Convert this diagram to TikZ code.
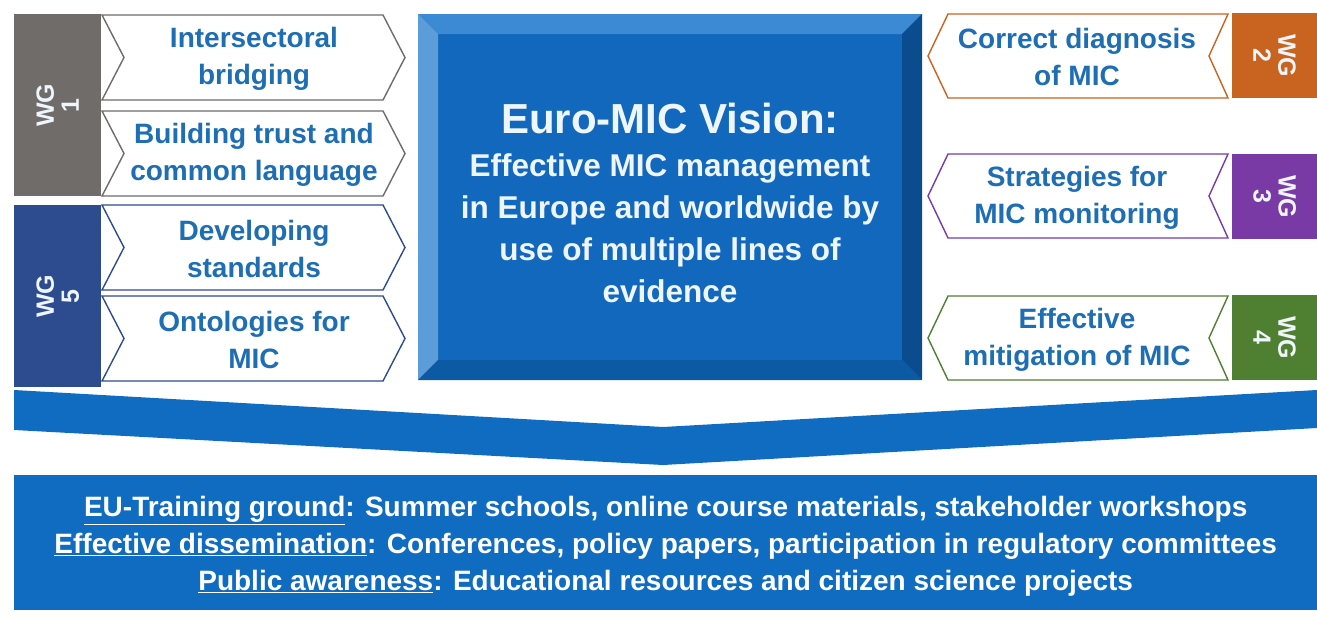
\documentclass[tikz,border=0pt]{standalone}
\usepackage{fontspec}
\setmainfont{Liberation Sans}
\usepackage{xcolor}
\usepackage{tikz}
\usetikzlibrary{positioning,calc}
\definecolor{micblue}{HTML}{0F6CC0}
\definecolor{micface}{HTML}{1268BD}
\definecolor{micbevlight}{HTML}{3C8AD4}
\definecolor{micbevside}{HTML}{5C9CD8}
\definecolor{micbevdark}{HTML}{0B4C8E}
\definecolor{micbevlow}{HTML}{0C5AA3}
\definecolor{mictext}{HTML}{1E6EB4}
\definecolor{micwhite}{HTML}{EEF5FB}
\definecolor{wgone}{HTML}{6F6C6A}
\definecolor{wgtwo}{HTML}{C8641F}
\definecolor{wgthree}{HTML}{7A3AA6}
\definecolor{wgfour}{HTML}{4F7F31}
\definecolor{wgfive}{HTML}{2D4C90}
\tikzset{
  wgbox/.style={fill=#1,draw=none,anchor=north west,minimum width=87pt,
                minimum height=182pt,inner sep=0pt},
  wgsmall/.style={fill=#1,draw=none,anchor=north west,minimum width=85pt,
                  minimum height=85pt,inner sep=0pt},
  wglabel/.style={text=micwhite,align=center,inner sep=0pt,
                  font=\bfseries\fontsize{25}{25}\selectfont},
  chevron/.style={draw=#1,fill=white,line width=1.4pt,line join=miter},
  chevtext/.style={text=mictext,align=center,inner sep=0pt,
                   font=\bfseries\fontsize{28}{37}\selectfont},
  bandtext/.style={text=white,align=center,inner sep=0pt,
                   font=\bfseries\fontsize{28}{37}\selectfont}
}
\newcommand{\ul}[1]{\underline{#1}}
\begin{document}
\begin{tikzpicture}[x=1pt,y=-1pt]
  \useasboundingbox (0,0) rectangle (1317,621);

  % working groups on the left
  \node[wgbox=wgone] (wg1) at (14,14) {};
  \node[wgbox=wgfive] (wg5) at (14,205) {};
  \node[wglabel,rotate=90] (wg1lbl) at (wg1) {WG\\1};
  \node[wglabel,rotate=90] (wg5lbl) at (wg5) {WG\\5};

  \draw[chevron=wgone] (102,15) -- (383,15) -- (405,57.5) -- (383,100) -- (102,100) -- (124,57.5) -- cycle;
  \draw[chevron=wgone] (102,111) -- (383,111) -- (405,153.5) -- (383,196) -- (102,196) -- (124,153.5) -- cycle;
  \draw[chevron=wgfive] (102,205) -- (383,205) -- (405,247.5) -- (383,290) -- (102,290) -- (124,247.5) -- cycle;
  \draw[chevron=wgfive] (102,296) -- (383,296) -- (405,338.5) -- (383,381) -- (102,381) -- (124,338.5) -- cycle;
  \node[chevtext] (bridging) at (254,59) {Intersectoral\\bridging};
  \node[chevtext] (trust) at (254,155) {Building trust and\\common language};
  \node[chevtext] (standards) at (254,249) {Developing\\standards};
  \node[chevtext] (ontologies) at (254,340) {Ontologies for\\MIC};

  % vision block with bevel
  \fill[micface] (418,14) rectangle (922,380);
  \fill[micbevlight] (418,14) -- (922,14) -- (902,34) -- (438,34) -- cycle;
  \fill[micbevside] (418,14) -- (438,34) -- (438,360) -- (418,380) -- cycle;
  \fill[micbevdark] (922,14) -- (922,380) -- (902,360) -- (902,34) -- cycle;
  \fill[micbevlow] (418,380) -- (922,380) -- (902,360) -- (438,360) -- cycle;
  \node[text=micwhite,align=center,inner sep=0pt,font=\bfseries\fontsize{31.5}{42}\selectfont]
    (vision) at (670,203) {{\fontsize{42}{46}\selectfont Euro-MIC Vision:}\\[1pt]
    Effective MIC management\\in Europe and worldwide by\\use of multiple lines of\\evidence};

  % working groups on the right
  \node[wgsmall=wgtwo] (wg2) at (1232,13) {};
  \node[wgsmall=wgthree] (wg3) at (1232,154) {};
  \node[wgsmall=wgfour] (wg4) at (1232,295) {};
  \node[wglabel,rotate=-90] (wg2lbl) at (wg2) {WG\\2};
  \node[wglabel,rotate=-90] (wg3lbl) at (wg3) {WG\\3};
  \node[wglabel,rotate=-90] (wg4lbl) at (wg4) {WG\\4};

  \draw[chevron=wgtwo] (1228,14) -- (948,14) -- (928,56) -- (948,98) -- (1228,98) -- (1209,56) -- cycle;
  \draw[chevron=wgthree] (1228,154) -- (948,154) -- (928,196) -- (948,238) -- (1228,238) -- (1209,196) -- cycle;
  \draw[chevron=wgfour] (1228,296) -- (948,296) -- (928,338) -- (948,380) -- (1228,380) -- (1209,338) -- cycle;
  \node[chevtext] (diagnosis) at (1077,57) {Correct diagnosis\\of MIC};
  \node[chevtext] (monitoring) at (1077,198) {Strategies for\\MIC monitoring};
  \node[chevtext] (mitigation) at (1077,340) {Effective\\mitigation of MIC};

  % downward band and outreach block
  \fill[micblue] (14,390) -- (663,427) -- (1317,390) -- (1317,428) -- (663,465) -- (14,430) -- cycle;
  \node[fill=micblue,anchor=north west,minimum width=1303pt,minimum height=135pt,inner sep=0pt]
    (outreach) at (14,475) {};
  \node[bandtext] (outreachtext) at ([yshift=-4pt]outreach.center) {%
    \ul{EU-Training ground}: Summer schools, online course materials, stakeholder workshops\\
    \ul{Effective dissemination}: Conferences, policy papers, participation in regulatory committees\\
    \ul{Public awareness}: Educational resources and citizen science projects};
\end{tikzpicture}
\end{document}
